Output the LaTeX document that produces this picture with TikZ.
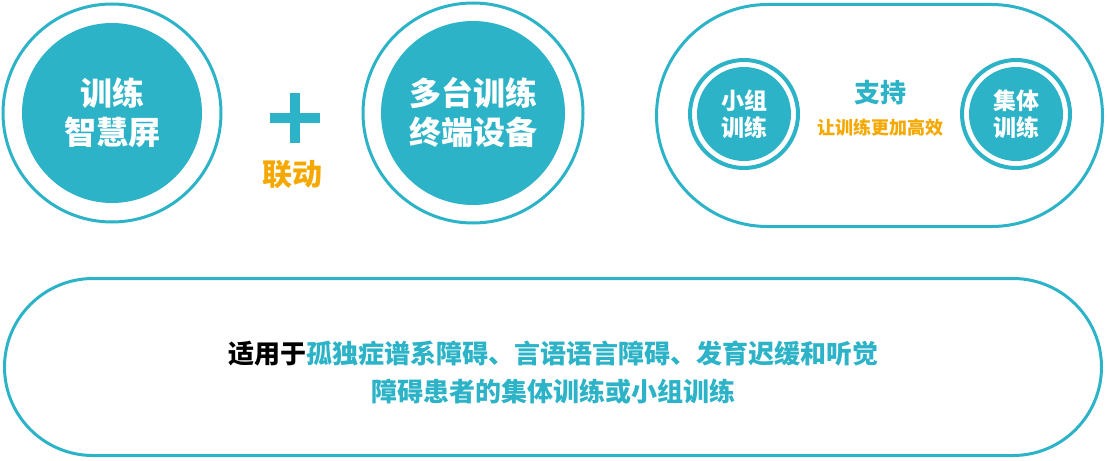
\documentclass[tikz,border=0pt]{standalone}
\usepackage{fontspec}
\setmainfont{Noto Sans CJK SC}
\usetikzlibrary{shapes.misc}
\definecolor{tealbl}{HTML}{2CB3C7}
\definecolor{goldtx}{HTML}{F5A800}
\begin{document}
\begin{tikzpicture}[x=1pt,y=-1pt,inner sep=0pt,outer sep=0pt,
ring/.style={draw=tealbl,circle,line width=3pt,minimum size=#1},
disc/.style={fill=tealbl,circle,minimum size=#1,text=white,align=center},
pill/.style={draw=tealbl,rounded rectangle,line width=3pt},
bigtxt/.style={font=\bfseries\fontsize{32}{39}\selectfont},
smalltxt/.style={font=\bfseries\fontsize{23}{27}\selectfont}]
\useasboundingbox (0,0) rectangle (1107,460);
% left pair
\draw (112,113) node[ring=218] (ringA) {};
\draw (112,113) node[disc=180,bigtxt] (screen) {训练\\智慧屏};
\fill[tealbl] (270,113) rectangle (320,123);
\fill[tealbl] (290,93) rectangle (300,143);
\draw (292,175) node[text=goldtx,font=\bfseries\fontsize{30}{36}\selectfont] (link) {联动};
\draw (473,113) node[ring=220] (ringB) {};
\draw (473,113) node[disc=184,bigtxt] (terminal) {多台训练\\终端设备};
% right group
\draw (879.5,115.5) node[pill,minimum width=446,minimum height=222] (group) {};
\draw (744,114) node[ring=108,line width=4pt] (ringC) {};
\draw (744,114) node[disc=94,smalltxt] (small) {小组\\训练};
\draw (1016,114) node[ring=108,line width=4pt] (ringD) {};
\draw (1016,114) node[disc=94,smalltxt] (whole) {集体\\训练};
\draw (880,93) node[text=tealbl,font=\bfseries\fontsize{26}{30}\selectfont] (support) {支持};
\draw (880,128) node[text=goldtx,font=\bfseries\fontsize{18}{22}\selectfont] (better) {让训练更加高效};
% bottom
\draw (553,367) node[pill,minimum width=1097,minimum height=177] (scope) {};
\draw (553,373) node[text=tealbl,align=center,font=\bfseries\fontsize{26}{38}\selectfont] (usage)
  {{\color{black}适用于}孤独症谱系障碍、言语语言障碍、发育迟缓和听觉\\障碍患者的集体训练或小组训练};
\end{tikzpicture}
\end{document}
